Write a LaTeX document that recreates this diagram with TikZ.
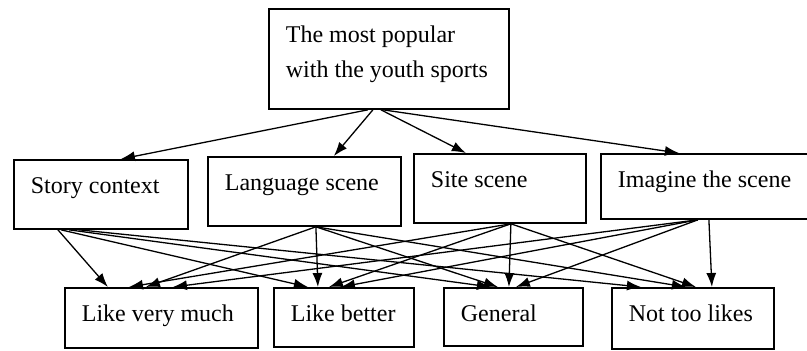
\documentclass[tikz,border=0pt]{standalone}
\usepackage{fontspec}
\setmainfont{Liberation Serif}
\usetikzlibrary{arrows.meta}

\begin{document}
\begin{tikzpicture}[x=0.5pt,y=-0.5pt,
    box/.style={draw=black, line width=0.9pt, anchor=north west, align=left,
        inner xsep=8.5pt, inner ysep=9pt, text height=8pt,
        font=\fontsize{12pt}{17.5pt}\selectfont,
        execute at begin node={\spaceskip=0pt\xspaceskip=0pt\hyphenpenalty=10000\rightskip=0pt plus 2em minus 6pt}},
    link/.style={line width=0.65pt, -{Latex[length=7pt,width=5pt]}}]
    \useasboundingbox (0,0) rectangle (807,350);
    \clip (0,0) rectangle (807,350);

    \node[box, text width=103pt, text depth=24pt] (top) at (268,8) {The most popular\\with the youth sports};

    \node[box, text width=70pt, text depth=8.5pt] (sc) at (13,159) {Story context};
    \node[box, text width=79.5pt, text depth=8.5pt] (ls) at (207,156) {Language scene};
    \node[box, text width=69pt, text depth=8.5pt] (ss) at (413,153) {Site scene};
    \node[box, text width=89pt, text depth=6.5pt] (is) at (600,153) {Imagine the scene};

    \node[box, text width=79.5pt, text depth=4pt] (lvm) at (64,287) {Like very much};
    \node[box, text width=53pt, text depth=3.5pt] (lb) at (273,287) {Like better};
    \node[box, text width=52.5pt, text depth=3pt] (gn) at (443,287) {General};
    \node[box, text width=64pt, text depth=4.5pt] (ntl) at (611,287) {Not too likes};

    \draw[link] ([xshift=-10.5pt]top.south) -- ([xshift=10pt]sc.north);
    \draw[link] ([xshift=-8pt]top.south) -- ([xshift=14.75pt]ls.north);
    \draw[link] ([xshift=-4pt]top.south) -- ([xshift=-17pt]ss.north);
    \draw[link] ([xshift=-3pt]top.south) -- ([xshift=-14pt]is.north);

    % story context
    \draw[link] ([xshift=-21.5pt]sc.south) -- ([xshift=-26.75pt]lvm.north);
    \draw[link] ([xshift=-20pt]sc.south) -- ([xshift=-18pt]lb.north);
    \draw[link] ([xshift=-16pt]sc.south) -- ([xshift=-11.25pt]gn.north);
    \draw[link] ([xshift=-11pt]sc.south) -- ([xshift=-26pt]ntl.north);
    % language scene
    \draw[link] ([xshift=5.75pt]ls.south) -- ([xshift=-7.75pt]lvm.north);
    \draw[link] ([xshift=5.75pt]ls.south) -- ([xshift=-13pt]lb.north);
    \draw[link] ([xshift=5.75pt]ls.south) -- ([xshift=-7.75pt]gn.north);
    \draw[link] ([xshift=5.75pt]ls.south) -- ([xshift=-3.5pt]ntl.north);
    % site scene
    \draw[link] ([xshift=5.5pt]ss.south) -- ([xshift=-16.25pt]lvm.north);
    \draw[link] ([xshift=5.5pt]ss.south) -- ([xshift=-7.5pt]lb.north);
    \draw[link] ([xshift=5.5pt]ss.south) -- ([xshift=-2.25pt]gn.north);
    \draw[link] ([xshift=5.5pt]ss.south) -- ([xshift=1.5pt]ntl.north);
    % imagine the scene
    \draw[link] ([xshift=-4.5pt]is.south) -- ([xshift=5.75pt]lvm.north);
    \draw[link] ([xshift=-4.5pt]is.south) -- ([xshift=-1.5pt]lb.north);
    \draw[link] ([xshift=-4.5pt]is.south) -- ([xshift=1.25pt]gn.north);
    \draw[link] ([xshift=1pt]is.south) -- ([xshift=9.5pt]ntl.north);

\end{tikzpicture}
\end{document}
